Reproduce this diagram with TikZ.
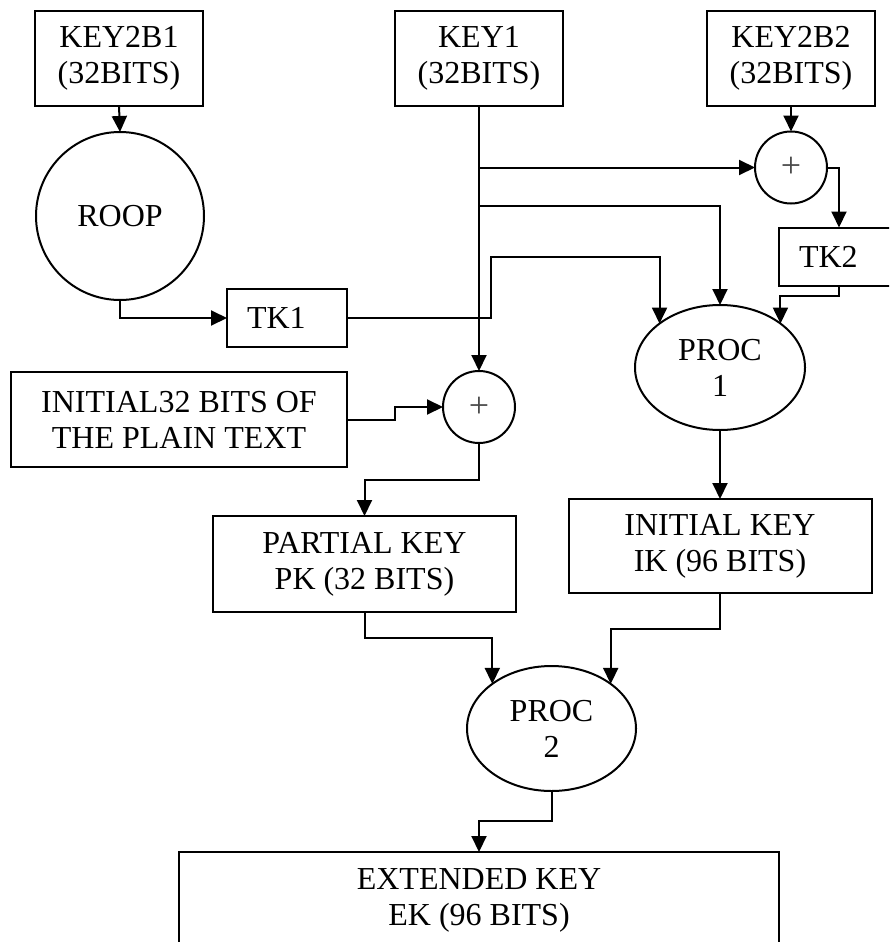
\documentclass[tikz,border=0pt]{standalone}
\usepackage{fontspec}
\setmainfont{Liberation Serif}
\usetikzlibrary{arrows.meta,shapes.geometric}

\tikzset{
  every node/.style={font=\fontsize{32}{36}\selectfont, outer sep=0pt, inner sep=0pt, align=center},
  blk/.style={draw, rectangle},
  tkbox/.style={draw, rectangle, text width=80pt, inner xsep=20pt, align=left, minimum height=58pt},
  rnd/.style={draw, circle},
  xorop/.style={draw, circle, minimum size=72pt, font=\fontsize{36}{36}\selectfont, text=black!70},
  proc/.style={draw, ellipse, minimum width=170pt, minimum height=125pt},
  arr/.style={-{Triangle[length=16pt,width=15pt]}}
}

\begin{document}
\begin{tikzpicture}[x=1pt, y=-1pt, line width=2pt]
  \clip (0,0) rectangle (889,942);

  % key inputs
  \node[blk, minimum width=168pt, minimum height=95pt] (k2b1) at (119,58.5) {KEY2B1\\(32BITS)};
  \node[blk, minimum width=168pt, minimum height=95pt] (k1)   at (479,58.5) {KEY1\\(32BITS)};
  \node[blk, minimum width=168pt, minimum height=95pt] (k2b2) at (791,58.5) {KEY2B2\\(32BITS)};

  % round function and temporary keys
  \node[rnd, minimum size=168pt] (roop) at (120,216) {ROOP};
  \node[xorop] (xor1) at (791,167.5) {+};
  \node[tkbox] (tk1) at (287,318) {TK1};
  \node[tkbox] (tk2) at (839,256.5) {TK2};

  % first processing stage
  \node[proc] (proc1) at (720,367.5) {PROC\\1};
  \node[blk, minimum width=336pt, minimum height=95pt] (init) at (179,419.5) {INITIAL32 BITS OF\\THE PLAIN TEXT};
  \node[xorop] (xor2) at (479,407) {+};
  \node[blk, minimum width=303pt, minimum height=96pt] (pk) at (364.5,564) {PARTIAL KEY\\PK (32 BITS)};
  \node[blk, minimum width=303pt, minimum height=94pt] (ik) at (720,546) {INITIAL KEY\\IK (96 BITS)};

  % second processing stage
  \node[proc, minimum width=169pt] (proc2) at (551.5,728.5) {PROC\\2};
  \node[blk, minimum width=600pt, minimum height=96pt] (ek) at (479,900) {EXTENDED KEY\\EK (96 BITS)};

  % connectors
  \draw[arr] (k2b1.south) -- (roop.north);
  \draw[arr] (roop.south) |- (tk1.west);
  \draw[arr] (tk1.east) -| (491,257) -| (proc1.144);
  \draw[arr] (k1.south) -- (xor2.north);
  \draw[arr] (k1.south |- xor1.west) -- (xor1.west);
  \draw[arr] (k1.south |- 0,206) -| (proc1.north);
  \draw[arr] (k2b2.south) -- (xor1.north);
  \draw[arr] (xor1.east) -| (tk2.north);
  \draw[arr] (tk2.south) -- ++(0,10) -| (proc1.36);
  \draw[arr] (init.east) -- ++(48,0) |- (xor2.west);
  \draw[arr] (xor2.south) -- ++(0,37) -| (pk.north);
  \draw[arr] (proc1.south) -- (ik.north);
  \draw[arr] (pk.south) -- ++(0,26) -| (proc2.143);
  \draw[arr] (ik.south) -- ++(0,36) -| (proc2.37);
  \draw[arr] (proc2.south) -- ++(0,30) -| (ek.north);
\end{tikzpicture}
\end{document}
